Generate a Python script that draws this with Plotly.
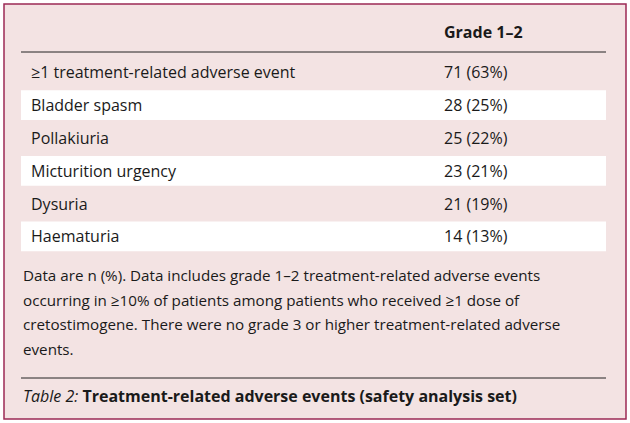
import plotly.graph_objects as go

header = "Grade 1–2"
events = ["≥1 treatment-related adverse event", "Bladder spasm", "Pollakiuria",
          "Micturition urgency", "Dysuria", "Haematuria"]
counts = [71, 28, 25, 23, 21, 14]
percents = [63, 25, 22, 21, 19, 13]
footnote = ["Data are n (%). Data includes grade 1–2 treatment-related adverse events",
            "occurring in ≥10% of patients among patients who received ≥1 dose of",
            "cretostimogene. There were no grade 3 or higher treatment-related adverse",
            "events."]
caption_title = "Table 2:"
caption_text = " Treatment-related adverse events (safety analysis set)"

W, H = 630, 423
PINK = "#f3e3e3"
FONT = "Open Sans"
fig = go.Figure()
shapes = [dict(type="rect", x0=0, x1=W, y0=0, y1=H, fillcolor="white", line_width=0, layer="below"),
          dict(type="rect", x0=4, x1=626, y0=4, y1=419, fillcolor=PINK,
               line=dict(color="#9c2a55", width=1.5), layer="below"),
          dict(type="line", x0=21, x1=606, y0=52, y1=52, line=dict(color="#222", width=1)),
          dict(type="line", x0=21, x1=606, y0=378, y1=378, line=dict(color="#222", width=1))]
ann = [dict(x=442, y=32, text="<b>" + header + "</b>", xanchor="left")]
top, rh = 56, 32.8
for i, (e, c, p) in enumerate(zip(events, counts, percents)):
    y0 = top + i * rh
    if i % 2 == 1:
        shapes.append(dict(type="rect", x0=21, x1=606, y0=y0 + 1.5, y1=y0 + rh - 1.5,
                           fillcolor="white", line_width=0, layer="below"))
    yc = y0 + rh / 2
    ann.append(dict(x=29, y=yc, text=e, xanchor="left"))
    ann.append(dict(x=442, y=yc, text=f"{c} ({p}%)", xanchor="left"))
for j, line in enumerate(footnote):
    ann.append(dict(x=21, y=275 + j * 24.7, text=line, xanchor="left", font=dict(size=15.2)))
ann.append(dict(x=21, y=396, text="<i>" + caption_title + "</i><b>" + caption_text + "</b>",
                xanchor="left"))
for a in ann:
    a.update(xref="x", yref="y", showarrow=False, yanchor="middle")
    a.setdefault("font", {})
    a["font"] = dict(family=FONT, color="#1a1a1a", size=a["font"].get("size", 16))
fig.update_layout(width=W, height=H, margin=dict(l=0, r=0, t=0, b=0),
                  paper_bgcolor="white", plot_bgcolor="white",
                  shapes=shapes, annotations=ann,
                  xaxis=dict(range=[0, W], visible=False, fixedrange=True),
                  yaxis=dict(range=[H, 0], visible=False, fixedrange=True))
fig.write_html("out.html", config={"displayModeBar": False},
               post_script="document.body.style.margin='0';document.body.style.overflow='hidden';")
